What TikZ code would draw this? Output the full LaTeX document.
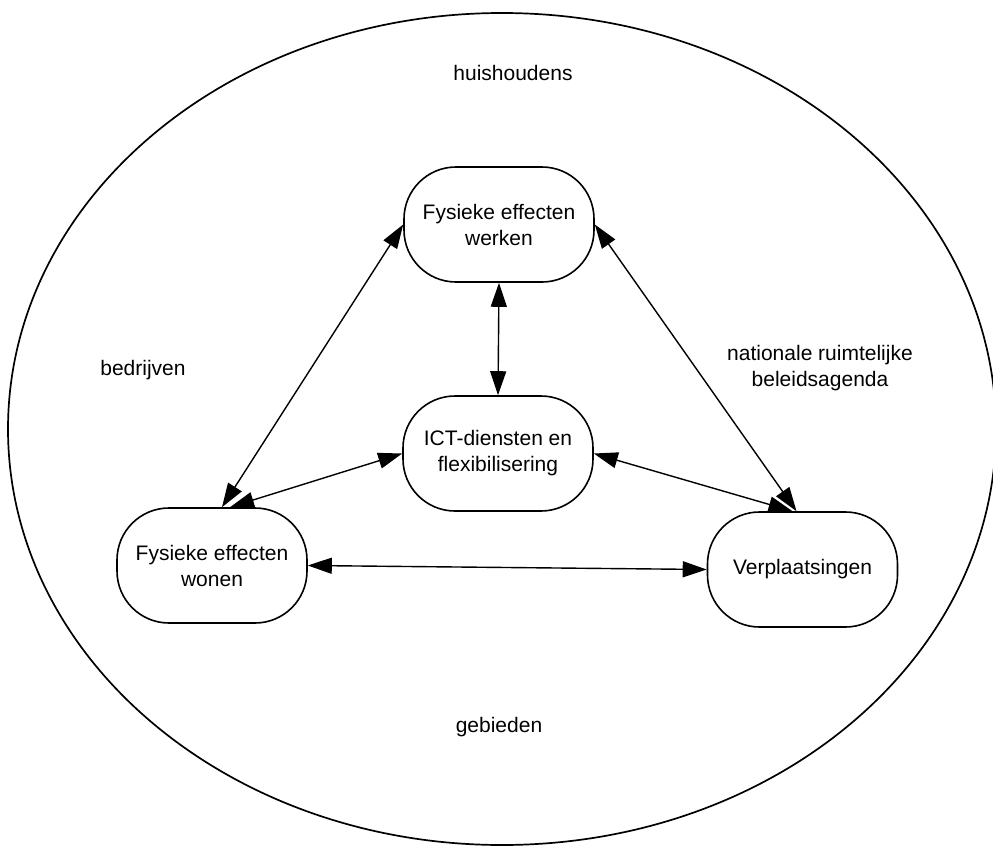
\documentclass[tikz,border=0pt]{standalone}
\usepackage{fontspec}
\setmainfont{Liberation Sans}
\usetikzlibrary{arrows.meta}
\begin{document}
\begin{tikzpicture}[x=1pt,y=-1pt,
  box/.style={draw, line width=1.6pt, rounded corners=52pt, minimum width=190pt, minimum height=115pt, align=center, font=\fontsize{21}{26}\selectfont, inner sep=0pt},
  lbl/.style={align=center, font=\fontsize{21}{26}\selectfont},
  link/.style={line width=1.4pt, {Triangle[length=24pt,width=16pt]}-{Triangle[length=24pt,width=16pt]}}]
\useasboundingbox (0,0) rectangle (993,846);
\draw[line width=1.7pt] (502,429) ellipse [x radius=494, y radius=416];
\node[box] (werken) at (499,224.5) {Fysieke effecten\\werken};
\node[box] (ict) at (498,453.5) {ICT-diensten en\\flexibilisering};
\node[box] (wonen) at (212,565.5) {Fysieke effecten\\wonen};
\node[box] (verpl) at (802.5,569.5) {Verplaatsingen};
\node[lbl] (huis) at (513,73) {huishoudens};
\node[lbl] (bedr) at (143,370) {bedrijven};
\node[lbl] (nat) at (820,368) {nationale ruimtelijke\\beleidsagenda};
\node[lbl] (geb) at (499,727) {gebieden};
\draw[link] (werken.south) -- (ict.north);
\draw[link] (werken.west) -- ([xshift=10pt]wonen.north);
\draw[link] (werken.east) -- ([xshift=-6pt]verpl.north);
\draw[link] (ict.west) -- ([xshift=18pt]wonen.north);
\draw[link] (ict.east) -- ([xshift=-10pt]verpl.north);
\draw[link] (wonen.east) -- (verpl.west);
\end{tikzpicture}
\end{document}
